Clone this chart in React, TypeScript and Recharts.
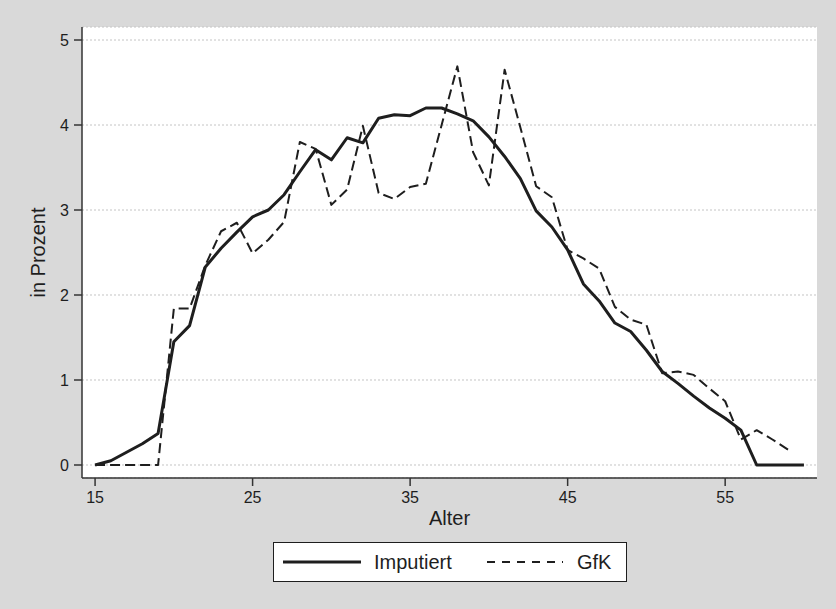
import React from "react";
import {
  LineChart,
  Line,
  XAxis,
  YAxis,
  CartesianGrid,
  Legend,
  Label,
} from "recharts";

// Alter (Jahre)
const AGES = [
  15, 16, 17, 18, 19, 20, 21, 22, 23, 24, 25, 26, 27, 28, 29, 30, 31, 32, 33,
  34, 35, 36, 37, 38, 39, 40, 41, 42, 43, 44, 45, 46, 47, 48, 49, 50, 51, 52,
  53, 54, 55, 56, 57, 58, 59, 60,
];

// Anteil in Prozent
const IMPUTIERT = [
  0.0, 0.05, 0.15, 0.25, 0.37, 1.45, 1.64, 2.33, 2.55, 2.74, 2.92, 3.0, 3.18,
  3.45, 3.71, 3.59, 3.85, 3.79, 4.08, 4.12, 4.11, 4.2, 4.2, 4.13, 4.05, 3.86,
  3.63, 3.37, 2.99, 2.8, 2.53, 2.13, 1.93, 1.67, 1.57, 1.35, 1.1, 0.96, 0.81,
  0.67, 0.55, 0.41, 0, 0, 0, 0,
];

const GFK = [
  0, 0, 0, 0, 0, 1.84, 1.84, 2.35, 2.75, 2.85, 2.49, 2.65, 2.86, 3.8, 3.72,
  3.06, 3.24, 3.99, 3.2, 3.13, 3.27, 3.31, 4.0, 4.69, 3.68, 3.29, 4.65, 3.97,
  3.28, 3.15, 2.53, 2.43, 2.31, 1.86, 1.71, 1.65, 1.08, 1.1, 1.06, 0.9, 0.75,
  0.3, 0.41, 0.3, 0.18, null,
];

const X_TICKS = [15, 25, 35, 45, 55];
const Y_TICKS = [0, 1, 2, 3, 4, 5];

const SERIES = [
  { key: "imputiert", name: "Imputiert", width: 3, dash: undefined },
  { key: "gfk", name: "GfK", width: 2, dash: "10 5" },
];

const data = AGES.map((age, i) => ({
  age,
  imputiert: IMPUTIERT[i],
  gfk: GFK[i],
}));

const FONT = '"Liberation Sans", Arial, Helvetica, sans-serif';
const INK = "#1e1e1e";

// legend box like the stata one: solid sample, label, dashed sample, label
const LegendBox = () => (
  <div
    style={{
      position: "relative",
      width: 354,
      height: 40,
      boxSizing: "border-box",
      border: `1.5px solid ${INK}`,
      background: "#fff",
      fontFamily: FONT,
      fontSize: 20,
      color: INK,
    }}
  >
    <svg
      width={354}
      height={40}
      style={{ position: "absolute", left: -1.5, top: -1.5 }}
    >
      <line x1={10} x2={88} y1={20} y2={20} stroke={INK} strokeWidth={3} />
      <line
        x1={214}
        x2={290}
        y1={20}
        y2={20}
        stroke={INK}
        strokeWidth={2}
        strokeDasharray="8 7"
      />
    </svg>
    <span style={{ position: "absolute", left: 100, top: 7, lineHeight: "24px" }}>
      {SERIES[0].name}
    </span>
    <span style={{ position: "absolute", left: 303, top: 7, lineHeight: "24px" }}>
      {SERIES[1].name}
    </span>
  </div>
);

export default function App() {
  return (
    <div
      style={{
        position: "absolute",
        left: 0,
        top: 0,
        width: 836,
        height: 609,
        background: "#d9d9d9",
      }}
    >
      <LineChart
        width={836}
        height={609}
        data={data}
        margin={{ top: 27, right: 19, bottom: 81, left: 0 }}
        style={{ fontFamily: FONT }}
      >
        <CartesianGrid
          vertical={false}
          fill="#fff"
          stroke="#c4c4c4"
          strokeDasharray="2 2"
        />
        <XAxis
          dataKey="age"
          type="number"
          domain={[14.17, 60.83]}
          ticks={X_TICKS}
          allowDataOverflow
          height={50}
          stroke="#333"
          strokeWidth={1.5}
          tickSize={8}
          tickMargin={6}
          tick={{ fill: INK, fontSize: 16 }}
        >
          <Label
            value="Alter"
            position="insideBottom"
            offset={3}
            style={{ fill: INK, fontSize: 20 }}
          />
        </XAxis>
        <YAxis
          type="number"
          domain={[-0.153, 5.153]}
          ticks={Y_TICKS}
          allowDataOverflow
          width={82}
          stroke="#333"
          strokeWidth={1.5}
          tickSize={8}
          tickMargin={5}
          tick={{ fill: INK, fontSize: 16 }}
        >
          <Label
            value="in Prozent"
            angle={-90}
            position="insideLeft"
            offset={38}
            style={{ fill: INK, fontSize: 20, textAnchor: "middle" }}
          />
        </YAxis>
        <Legend
          layout="horizontal"
          align="center"
          verticalAlign="middle"
          wrapperStyle={{ left: 273, top: 542, width: 354, height: 40 }}
          content={() => <LegendBox />}
        />
        {SERIES.map((s) => (
          <Line
            key={s.key}
            type="linear"
            dataKey={s.key}
            name={s.name}
            stroke={INK}
            strokeWidth={s.width}
            strokeDasharray={s.dash}
            strokeLinejoin="round"
            dot={false}
            activeDot={false}
            connectNulls={false}
            isAnimationActive={false}
          />
        ))}
      </LineChart>
    </div>
  );
}
